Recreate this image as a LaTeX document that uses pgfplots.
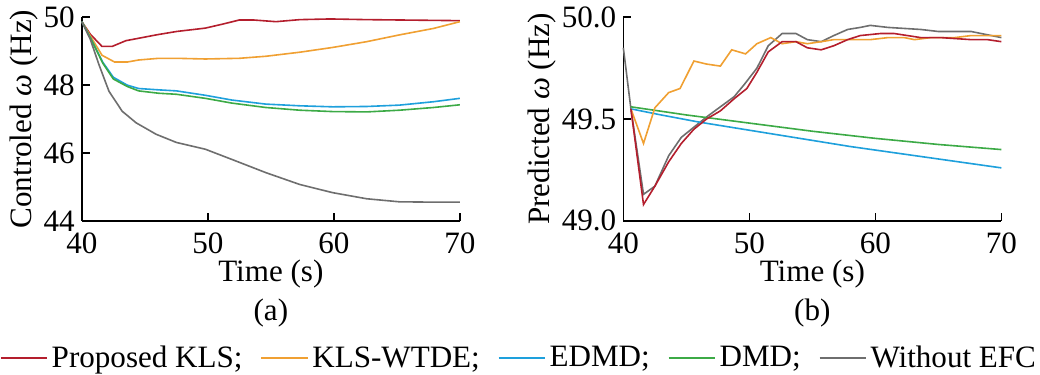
\documentclass[border=0pt]{standalone}
\usepackage{fontspec}
\setmainfont{Liberation Serif}
\usepackage{pgfplots}
\pgfplotsset{compat=1.18}
\definecolor{cred}{RGB}{180,30,45}
\definecolor{corange}{RGB}{240,160,50}
\definecolor{cblue}{RGB}{30,160,220}
\definecolor{cgreen}{RGB}{60,170,70}
\definecolor{cgray}{RGB}{110,110,110}
\pgfplotsset{
  myax/.style={
    scale only axis, width=188.5pt, height=101.5pt,
    xmin=40, xmax=70, xtick={40,50,60,70},
    axis x line*=bottom, axis y line*=left,
    tick align=inside, tick style={black, line width=0.8pt},
    axis line style={line width=0.8pt},
    major tick length=4pt,
    font=\fontsize{15.5}{18}\selectfont,
    /pgf/number format/assume math mode=true,
    xticklabel style={yshift=-2.5pt},
    xlabel={Time (s)},
    xlabel style={yshift=4pt},
    every axis plot/.append style={line width=0.8pt},
    clip=false,
  }
}
\begin{document}
\begin{tikzpicture}
\begin{axis}[myax, ymin=44, ymax=50, ytick={44,46,48,50},
  ylabel={Controled \textit{ω} (Hz)}, ylabel style={yshift=-4pt},
  legend columns=5,
  legend style={at={(1.159,-0.675)}, anchor=center, draw=none, fill=none,
    font=\fontsize{15.5}{18}\selectfont,
    /tikz/every even column/.append style={column sep=7pt},
    inner sep=0pt, cells={anchor=west}},
  legend image code/.code={\draw[#1] (0pt,0pt) -- (23pt,0pt);},
]
\addplot[cred] coordinates {(40,49.87)(40.67,49.50)(41.6,49.14)(42.4,49.14)(43.5,49.31)(44.5,49.38)(45.9,49.48)(47.5,49.58)(49.8,49.68)(51.2,49.80)(52.5,49.92)(53.6,49.92)(55.4,49.87)(57.3,49.93)(59.7,49.95)(62.6,49.93)(70,49.90)};
\addlegendentry{Proposed KLS;}
\addplot[corange] coordinates {(40,49.87)(40.67,49.45)(41.6,48.88)(42.6,48.68)(43.6,48.68)(44.5,48.74)(46.1,48.79)(47.5,48.79)(49.8,48.77)(52.5,48.79)(54.6,48.85)(57.3,48.97)(59.9,49.11)(62.6,49.28)(65.2,49.48)(67.9,49.67)(70,49.87)};
\addlegendentry{KLS-WTDE;}
\addplot[cblue] coordinates {(40,49.87)(40.67,49.40)(41.67,48.67)(42.5,48.23)(43.6,48.0)(44.5,47.90)(46.1,47.86)(47.5,47.83)(49.8,47.70)(51.9,47.56)(54.6,47.44)(57.3,47.39)(59.9,47.36)(62.6,47.37)(65.2,47.41)(67.9,47.51)(70,47.61)};
\addlegendentry{EDMD;}
\addplot[cgreen] coordinates {(40,49.87)(40.67,49.40)(41.67,48.64)(42.5,48.18)(43.6,47.96)(44.5,47.83)(46.1,47.76)(47.5,47.73)(49.8,47.61)(51.9,47.47)(54.6,47.34)(57.3,47.26)(59.9,47.22)(62.6,47.21)(65.2,47.26)(67.9,47.34)(70,47.42)};
\addlegendentry{DMD;}
\addplot[cgray] coordinates {(40,49.87)(40.67,49.35)(41.35,48.61)(42.15,47.82)(43.2,47.23)(44.3,46.89)(45.9,46.55)(47.5,46.31)(49.8,46.11)(51.9,45.81)(54.6,45.42)(57.3,45.07)(59.9,44.83)(62.6,44.65)(65.2,44.56)(67.9,44.55)(70,44.55)};
\addlegendentry{Without EFC}
\node[font=\fontsize{15.5}{18}\selectfont] at (rel axis cs:0.5,-0.455) {(a)};
\end{axis}
\begin{axis}[myax, at={(270pt,0pt)}, ymin=49, ymax=50, ytick={49,49.5,50},
  yticklabel style={/pgf/number format/.cd, fixed, fixed zerofill, precision=1},
  ylabel={Predicted \textit{ω} (Hz)}, ylabel style={yshift=-4pt},
]
\addplot[cgray] coordinates {(40,49.85)(40.6,49.55)(41.6,49.13)(42.5,49.17)(43.6,49.32)(44.6,49.41)(45.6,49.46)(46.6,49.51)(47.7,49.56)(48.8,49.61)(49.6,49.67)(50.6,49.75)(51.5,49.86)(52.6,49.92)(53.7,49.92)(54.6,49.89)(55.7,49.88)(56.7,49.91)(57.8,49.94)(58.8,49.95)(59.6,49.96)(61,49.95)(63.6,49.94)(65,49.93)(67.6,49.93)(70,49.90)};
\addplot[cgreen] coordinates {(40.6,49.56)(45,49.52)(50,49.48)(55,49.44)(60,49.405)(65,49.375)(70,49.35)};
\addplot[cblue] coordinates {(40.6,49.55)(43,49.52)(46,49.485)(50,49.445)(54,49.405)(58,49.365)(62,49.33)(66,49.295)(70,49.26)};
\addplot[corange] coordinates {(40.6,49.55)(41.6,49.38)(42.5,49.555)(43.6,49.63)(44.5,49.65)(45.6,49.785)(46.6,49.77)(47.7,49.76)(48.6,49.84)(49.7,49.82)(50.6,49.87)(51.7,49.90)(52.6,49.87)(53.7,49.88)(54.6,49.87)(55.7,49.88)(56.7,49.89)(57.8,49.89)(59.6,49.89)(61,49.90)(62.3,49.90)(63.1,49.89)(64.4,49.90)(66.3,49.90)(67.6,49.91)(70,49.91)};
\addplot[cred] coordinates {(40.6,49.55)(41.6,49.08)(42.5,49.17)(43.6,49.29)(44.6,49.38)(45.6,49.45)(46.6,49.50)(47.7,49.54)(48.8,49.60)(49.8,49.65)(50.6,49.73)(51.5,49.83)(52.6,49.88)(53.7,49.88)(54.6,49.85)(55.7,49.84)(56.7,49.86)(57.8,49.89)(58.8,49.91)(60.4,49.92)(61.5,49.92)(63.6,49.90)(65.2,49.90)(67.6,49.89)(68.9,49.89)(70,49.88)};
\node[font=\fontsize{15.5}{18}\selectfont] at (rel axis cs:0.5,-0.455) {(b)};
\end{axis}
\end{tikzpicture}
\end{document}
